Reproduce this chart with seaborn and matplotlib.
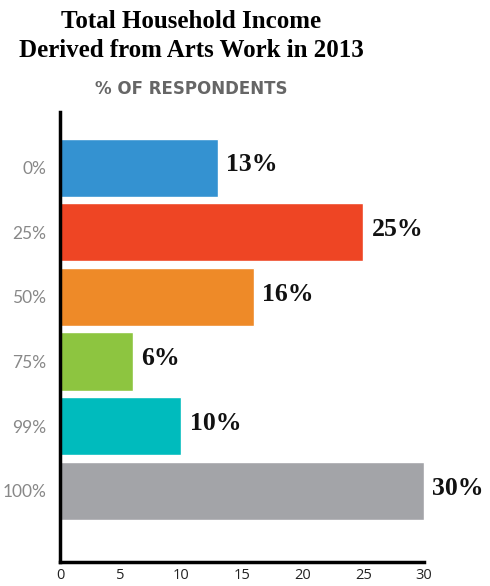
import matplotlib
matplotlib.use("Agg")
import matplotlib.pyplot as plt
import seaborn as sns
import pandas as pd

categories = ["0%", "25%", "50%", "75%", "99%", "100%"]
values = [13, 25, 16, 6, 10, 30]
colors = ["#3492D1", "#EE4524", "#EE8A28", "#8DC540", "#00BBBD", "#A3A4A8"]
x_ticks = [0, 5, 10, 15, 20, 25, 30]

df = pd.DataFrame({"category": categories, "value": values})

sns.set_style("white")
plt.rcParams["font.family"] = ["DejaVu Sans"]

W, H = 490, 586
fig = plt.figure(figsize=(W / 100, H / 100), dpi=100)
left, right, top, bottom = 60, 424, 112, 562
ax = fig.add_axes([left / W, 1 - bottom / H, (right - left) / W, (bottom - top) / H])

sns.barplot(data=df, y="category", x="value", hue="category",
            palette=colors, order=categories, hue_order=categories,
            width=0.9, saturation=1, legend=False, ax=ax, orient="h")

ax.set_xlim(0, 30)
ax.set_ylim(6.1, -0.86)
ax.set_xlabel("")
ax.set_ylabel("")
ax.set_xticks(x_ticks)
ax.set_xticklabels([str(t) for t in x_ticks], fontfamily="Open Sans", fontsize=10.5, color="#222222")
ax.tick_params(axis="x", direction="in", length=7, width=2, color="black", pad=4)
ax.tick_params(axis="y", length=0, pad=10, labelsize=12.5, labelcolor="#888888")
for lbl in ax.get_yticklabels():
    lbl.set_fontfamily("Lato")

for s in ["top", "right"]:
    ax.spines[s].set_visible(False)
for s in ["left", "bottom"]:
    ax.spines[s].set_color("black")
    ax.spines[s].set_linewidth(2.5)

for i, v in enumerate(values):
    ax.annotate(f"{v}%", xy=(v, i), xytext=(6, 2), textcoords="offset points",
                ha="left", va="center", fontsize=18.5, fontweight="bold",
                fontfamily="Liberation Serif", color="#111111")

fig.text(191 / W, 1 - 36 / H, "Total Household Income\nDerived from Arts Work in 2013",
         ha="center", va="center", fontsize=18, fontweight="bold",
         fontfamily="Liberation Serif", linespacing=1.3, color="black")
fig.text(191 / W, 1 - 89 / H, "% OF RESPONDENTS", ha="center", va="center",
         fontsize=12, fontweight="bold", fontfamily="DejaVu Sans", color="#666666")

fig.savefig("out.png", dpi=100)
